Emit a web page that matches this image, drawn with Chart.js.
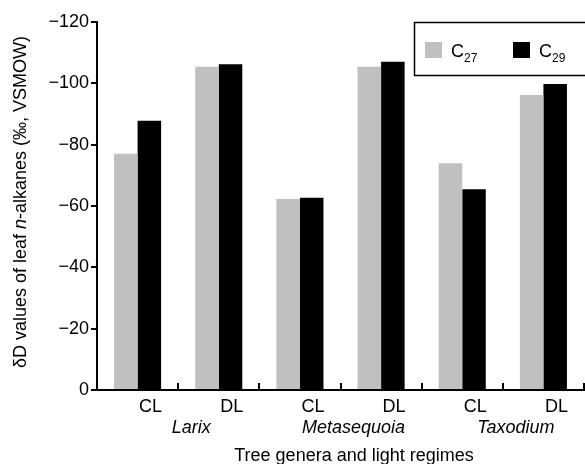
<!DOCTYPE html>
<html>
<head>
<meta charset="utf-8">
<script src="https://cdn.jsdelivr.net/npm/chart.js@4"></script>
<style>
  html, body { margin: 0; padding: 0; background: #fff; }
  #wrap { width: 585px; height: 464px; }
</style>
</head>
<body>
<div id="wrap"><canvas id="mycanvas" width="585" height="464"></canvas></div>
<script>
// data
var regimes = ['CL', 'DL', 'CL', 'DL', 'CL', 'DL'];
var genera = ['Larix', 'Metasequoia', 'Taxodium'];
var c27 = [-77.0, -105.4, -62.3, -105.4, -73.9, -96.2];
var c29 = [-87.8, -106.2, -62.7, -107.0, -65.5, -99.8];
var yTicks = [0, -20, -40, -60, -80, -100, -120];

var FONT = '"Liberation Sans", Arial, sans-serif';

// extra drawing: axis titles, genus names, inner x ticks, legend box
var decor = {
  id: 'decor',
  afterDraw: function(chart) {
    var ctx = chart.ctx;
    var x = chart.scales.x;
    var area = chart.chartArea;
    ctx.save();
    ctx.fillStyle = '#000';
    ctx.strokeStyle = '#000';

    // x ticks pointing up at category boundaries
    ctx.lineWidth = 2;
    for (var i = 1; i <= regimes.length; i++) {
      var bx = Math.round(x.getPixelForValue(i - 0.5));
      if (bx > area.right) bx = area.right - 1;
      ctx.beginPath();
      ctx.moveTo(bx, area.bottom);
      ctx.lineTo(bx, area.bottom - 7);
      ctx.stroke();
    }

    // genus names
    ctx.font = 'italic 18px ' + FONT;
    ctx.textAlign = 'center';
    ctx.textBaseline = 'alphabetic';
    for (var g = 0; g < genera.length; g++) {
      var gx = x.getPixelForValue(g * 2 + 0.5) + 13;
      ctx.fillText(genera[g], gx, 433);
    }

    // x title
    ctx.font = '18px ' + FONT;
    ctx.fillText('Tree genera and light regimes', 354, 461);

    // y title, rotated, with italic n
    ctx.save();
    ctx.translate(26, 202);
    ctx.rotate(-Math.PI / 2);
    var parts = [
      ['\u03B4D values of leaf ', '18px ' + FONT],
      ['n', 'italic 18px ' + FONT],
      ['-alkanes (\u2030, VSMOW)', '18px ' + FONT]
    ];
    var total = 0;
    parts.forEach(function(p) { ctx.font = p[1]; total += ctx.measureText(p[0]).width; });
    var px = -total / 2;
    ctx.textAlign = 'left';
    parts.forEach(function(p) {
      ctx.font = p[1];
      ctx.fillText(p[0], px, 0);
      px += ctx.measureText(p[0]).width;
    });
    ctx.restore();

    // legend box
    ctx.fillStyle = '#fff';
    ctx.fillRect(414, 22, 175, 54);
    ctx.lineWidth = 1.5;
    ctx.strokeRect(414.5, 22.5, 180, 53);
    var items = [['#c0c0c0', '27', 425], ['#000', '29', 513]];
    items.forEach(function(it) {
      ctx.fillStyle = it[0];
      ctx.fillRect(it[2], 42, 17, 16);
      ctx.fillStyle = '#000';
      ctx.textAlign = 'left';
      ctx.font = '18px ' + FONT;
      ctx.fillText('C', it[2] + 26, 57);
      var cw = ctx.measureText('C').width;
      ctx.font = '12px ' + FONT;
      ctx.fillText(it[1], it[2] + 26 + cw, 62);
    });

    ctx.restore();
  }
};

var ctx = document.getElementById('mycanvas').getContext('2d');
var mychart = new Chart(ctx, {
  type: 'bar',
  data: {
    labels: regimes,
    datasets: [
      {
        label: 'C27',
        data: c27,
        backgroundColor: '#c0c0c0',
        borderWidth: 0,
        categoryPercentage: 0.58,
        barPercentage: 1.0
      },
      {
        label: 'C29',
        data: c29,
        backgroundColor: '#000',
        borderWidth: 0,
        categoryPercentage: 0.58,
        barPercentage: 1.0
      }
    ]
  },
  options: {
    responsive: false,
    animation: false,
    devicePixelRatio: 1,
    layout: { padding: { top: 22, right: 1, left: 0, bottom: 0 } },
    plugins: {
      legend: { display: false },
      tooltip: { enabled: false }
    },
    scales: {
      x: {
        grid: { display: false },
        border: { color: '#000', width: 2 },
        ticks: { color: '#000', font: { family: FONT, size: 18 }, padding: -2, labelOffset: 13, maxRotation: 0 },
        afterFit: function(s) { s.height = 74; }
      },
      y: {
        min: -120,
        max: 0,
        reverse: true,
        afterBuildTicks: function(s) { s.ticks = yTicks.map(function(v) { return { value: v }; }); },
        grid: { drawOnChartArea: false, drawTicks: true, tickLength: 6, color: '#000', lineWidth: 2 },
        border: { color: '#000', width: 2 },
        ticks: {
          color: '#000',
          font: { family: FONT, size: 18 },
          padding: 2,
          callback: function(v) { return String(v).replace('-', '\u2212'); }
        },
        afterFit: function(s) { s.width = 97; }
      }
    }
  },
  plugins: [decor]
});
</script>
</body>
</html>
